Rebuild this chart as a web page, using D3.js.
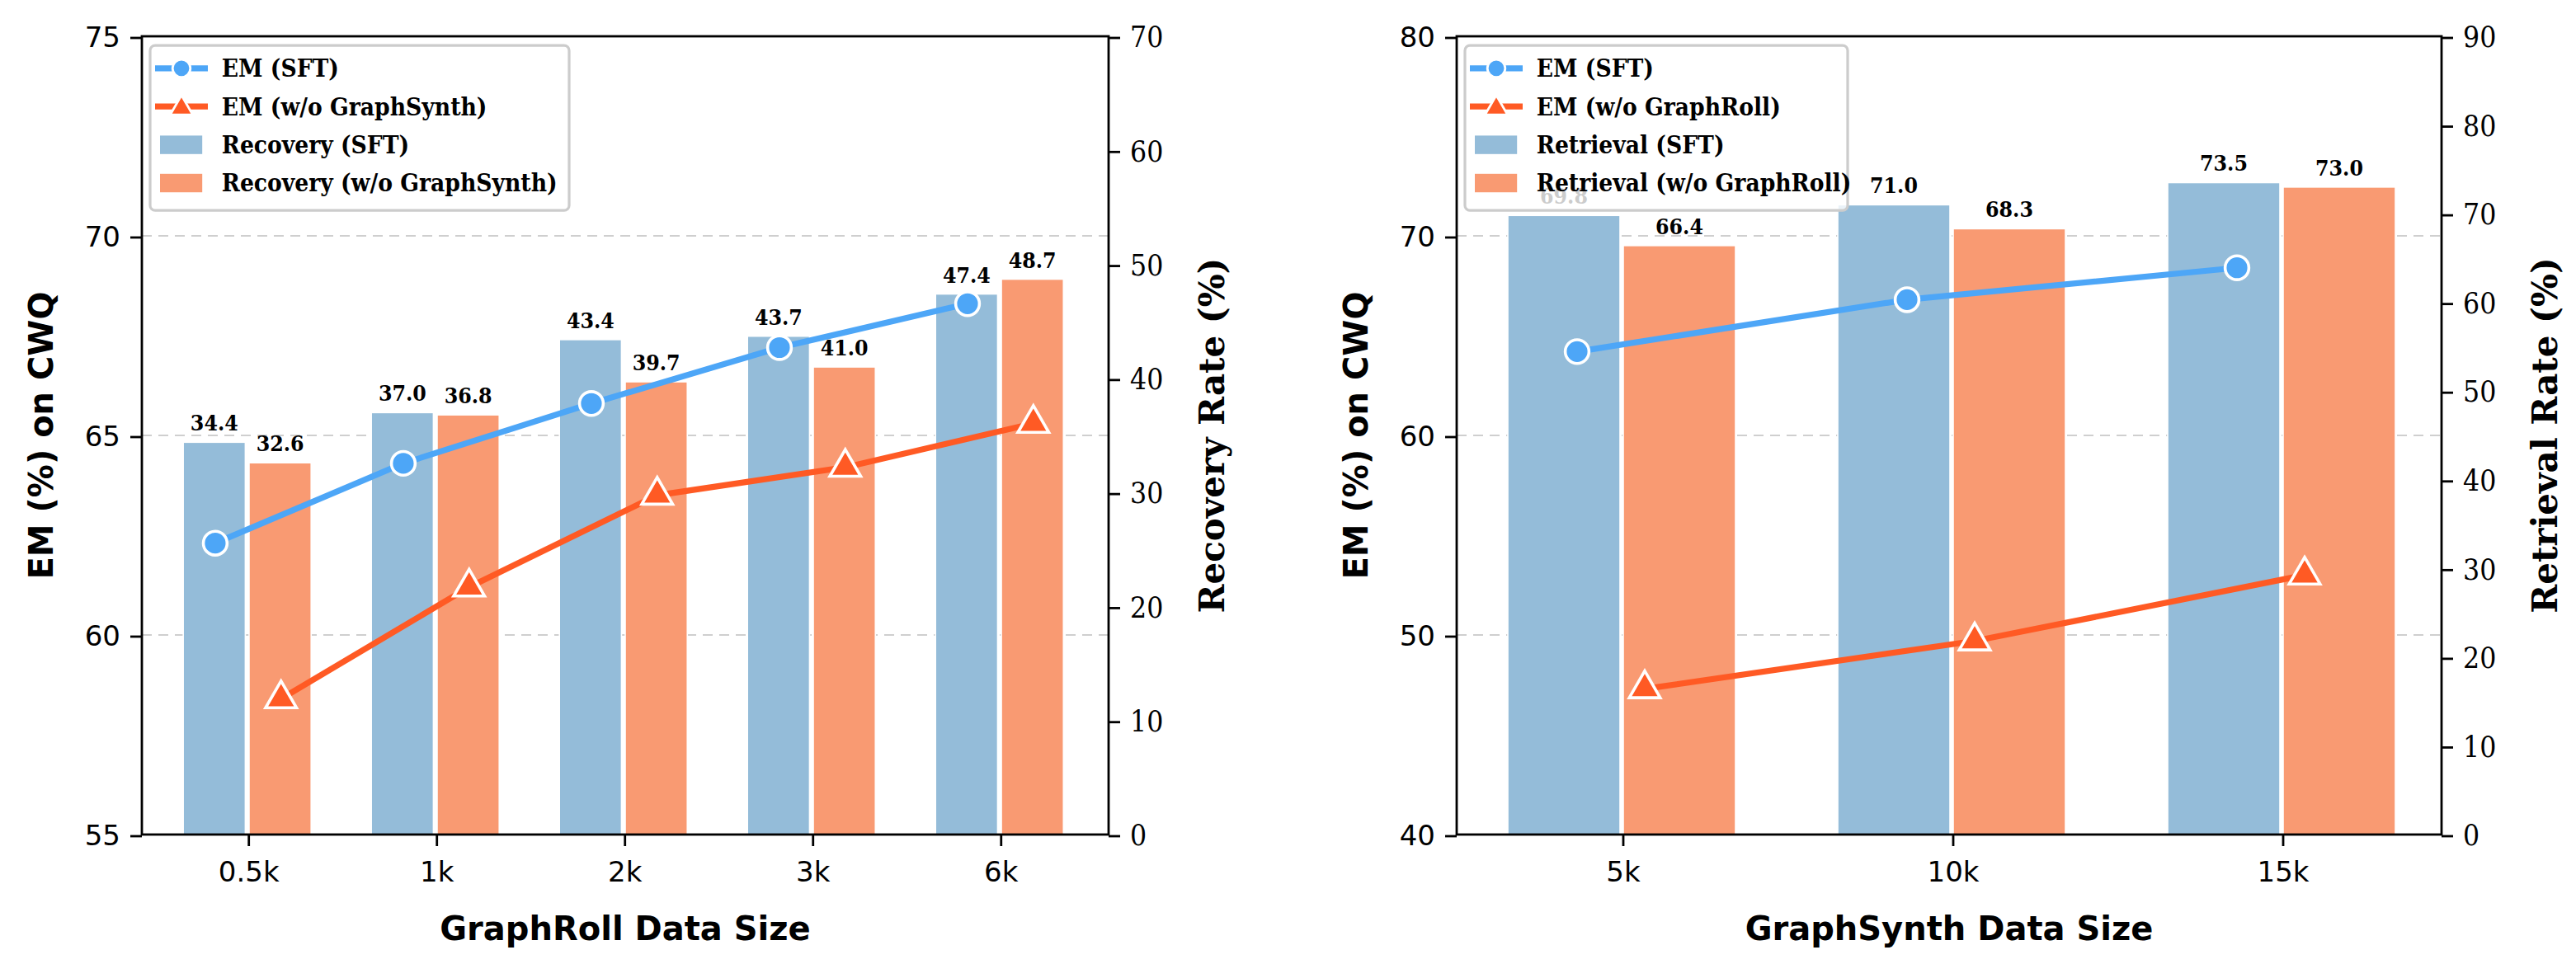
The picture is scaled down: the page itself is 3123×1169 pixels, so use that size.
<!DOCTYPE html><html><head><meta charset="utf-8"><script src="https://cdn.jsdelivr.net/npm/d3@7"></script>
<style>body{margin:0;background:#fff}</style></head><body><svg id="c" width="3123" height="1169"></svg><script>
const leftCats=["0.5k","1k","2k","3k","6k"];
const leftEmSft=[62.3,64.3,65.8,67.2,68.3];
const leftEmWo=[58.4,61.2,63.5,64.2,65.3];
const leftBarSft=[34.4,37.0,43.4,43.7,47.4];
const leftBarWo=[32.6,36.8,39.7,41.0,48.7];
const rightCats=["5k","10k","15k"];
const rightEmSft=[64.2,66.8,68.4];
const rightEmWo=[47.3,49.7,53.0];
const rightBarSft=[69.8,71.0,73.5];
const rightBarWo=[66.4,68.3,73.0];

const S=4;
const svg=d3.select("#c").append("g").attr("transform",`scale(${S})`);
const C={line1:"#4da6f7",line2:"#ff5a24",bar1:"#94bcd9",bar2:"#f99a72"};
const serif="'DejaVu Serif', serif";
const sans="'DejaVu Sans', sans-serif";

function chart(o){
 const g=svg.append("g");
 const x=d3.scaleLinear().domain(o.xdom).range([o.x0,o.x1]);
 const yl=d3.scaleLinear().domain(o.yl).range([o.y1,o.y0]);
 const yr=d3.scaleLinear().domain(o.yr).range([o.y1,o.y0]);
 const idx=o.cats.map((c,i)=>i);
 g.append("g").selectAll("line").data(o.ylTicks).join("line")
  .attr("x1",o.x0).attr("x2",o.x1).attr("y1",d=>yl(d)).attr("y2",d=>yl(d))
  .attr("stroke","#cfcfcf").attr("stroke-width",0.5).attr("stroke-dasharray","3,2");
 const bw=x(o.bw)-x(0);
 [[o.b1,C.bar1,-o.boff],[o.b2,C.bar2,o.boff]].forEach(([vals,col,off])=>{
  g.append("g").selectAll("rect").data(vals).join("rect")
   .attr("x",(d,i)=>x(i+off)-bw/2).attr("width",bw)
   .attr("y",d=>yr(d)).attr("height",d=>yr(o.yr[0])-yr(d))
   .attr("fill",col).attr("stroke","#fff").attr("stroke-width",0.4);
  g.append("g").selectAll("text").data(vals).join("text")
   .attr("x",(d,i)=>x(i+off)).attr("y",d=>yr(d)-3.5).attr("text-anchor","middle")
   .attr("font-family",serif).attr("font-weight","bold").attr("font-size",6.6).attr("font-stretch","condensed")
   .text(d=>d.toFixed(1));
 });
 const l1=d3.line().x((d,i)=>x(i+o.m1)).y(d=>yl(d));
 const l2=d3.line().x((d,i)=>x(i+o.m2)).y(d=>yl(d));
 g.append("path").attr("d",l1(o.e1)).attr("fill","none").attr("stroke",C.line1).attr("stroke-width",1.8);
 g.append("path").attr("d",l2(o.e2)).attr("fill","none").attr("stroke",C.line2).attr("stroke-width",1.8);
 g.append("g").selectAll("circle").data(o.e1).join("circle")
  .attr("cx",(d,i)=>x(i+o.m1)).attr("cy",d=>yl(d)).attr("r",3.6)
  .attr("fill",C.line1).attr("stroke","#fff").attr("stroke-width",0.9);
 const tri=d3.symbol().type(d3.symbolTriangle).size(38);
 g.append("g").selectAll("path").data(o.e2).join("path")
  .attr("transform",(d,i)=>`translate(${x(i+o.m2)},${yl(d)})`).attr("d",tri())
  .attr("fill",C.line2).attr("stroke","#fff").attr("stroke-width",0.9);
 const ax=g.append("g").attr("transform",`translate(0,${o.y1})`)
  .call(d3.axisBottom(x).tickValues(idx).tickFormat(i=>o.cats[i]).tickSize(3.5));
 ax.selectAll("text").attr("font-family",sans).attr("font-size",8.5).attr("fill","#000").attr("dy","0.9em");
 const al=g.append("g").attr("transform",`translate(${o.x0},0)`).call(d3.axisLeft(yl).tickValues(o.ylTicks).tickSize(3.5));
 al.selectAll("text").attr("font-family",sans).attr("font-size",8.5).attr("fill","#000");
 const ar=g.append("g").attr("transform",`translate(${o.x1},0)`).call(d3.axisRight(yr).tickValues(o.yrTicks).tickSize(3.5));
 ar.selectAll("text").attr("font-family",serif).attr("font-size",8.8).attr("font-stretch","condensed").attr("fill","#000");
 [ax,al,ar].forEach(a=>{a.select(".domain").remove();a.selectAll("line").attr("stroke","#000").attr("stroke-width",0.7);});
 g.append("rect").attr("x",o.x0).attr("y",o.y0).attr("width",o.x1-o.x0).attr("height",o.y1-o.y0)
  .attr("fill","none").attr("stroke","#000").attr("stroke-width",0.7);
 g.append("text").attr("x",(o.x0+o.x1)/2).attr("y",o.y1+32).attr("text-anchor","middle")
  .attr("font-family",sans).attr("font-weight","bold").attr("font-size",10).text(o.xlabel);
 g.append("text").attr("transform",`translate(${o.x0-27},${(o.y0+o.y1)/2}) rotate(-90)`).attr("text-anchor","middle")
  .attr("font-family",sans).attr("font-weight","bold").attr("font-size",10).text("EM (%) on CWQ");
 g.append("text").attr("transform",`translate(${o.x1+35},${(o.y0+o.y1)/2}) rotate(-90)`).attr("text-anchor","middle")
  .attr("font-family",serif).attr("font-weight","bold").attr("font-size",10.5).text(o.rlabel);
 const lg=g.append("g").attr("transform",`translate(${o.x0+2.5},${o.y0+2.8})`);
 lg.append("rect").attr("width",o.legW).attr("height",50).attr("rx",1.5).attr("fill","#fff").attr("fill-opacity",0.8)
  .attr("stroke","#ccc").attr("stroke-width",0.8);
 const items=[["l",C.line1,"c",o.leg[0]],["l",C.line2,"t",o.leg[1]],["b",C.bar1,"",o.leg[2]],["b",C.bar2,"",o.leg[3]]];
 const mtri=d3.symbol().type(d3.symbolTriangle).size(20);
 items.forEach((it,k)=>{
  const yy=6.9+k*11.6;
  if(it[0]==="l"){
   lg.append("line").attr("x1",1.5).attr("x2",17.5).attr("y1",yy).attr("y2",yy).attr("stroke",it[1]).attr("stroke-width",1.8);
   if(it[2]==="c") lg.append("circle").attr("cx",9.5).attr("cy",yy).attr("r",2.7).attr("fill",it[1]).attr("stroke","#fff").attr("stroke-width",0.7);
   else lg.append("path").attr("transform",`translate(9.5,${yy+0.5})`).attr("d",mtri()).attr("fill",it[1]).attr("stroke","#fff").attr("stroke-width",0.7);
  } else {
   lg.append("rect").attr("x",3).attr("y",yy-2.8).attr("width",12.8).attr("height",5.6).attr("fill",it[1]);
  }
  lg.append("text").attr("x",21.7).attr("y",yy).attr("dy","0.35em").attr("font-family",serif).attr("font-weight","bold")
   .attr("font-stretch","condensed").attr("font-size",7.4).text(it[3]);
 });
}
chart({cats:leftCats,xdom:[-0.56,4.58],x0:43,x1:336,y0:11,y1:253,yl:[55,75],yr:[0,70],
 ylTicks:[55,60,65,70,75],yrTicks:d3.range(0,71,10),b1:leftBarSft,b2:leftBarWo,e1:leftEmSft,e2:leftEmWo,
 bw:0.33,boff:0.175,m1:-0.17,m2:0.18,xlabel:"GraphRoll Data Size",rlabel:"Recovery Rate (%)",legW:127,
 leg:["EM (SFT)","EM (w/o GraphSynth)","Recovery (SFT)","Recovery (w/o GraphSynth)"]});
chart({cats:rightCats,xdom:[-0.5,2.485],x0:441.5,x1:740,y0:11,y1:253,yl:[40,80],yr:[0,90],
 ylTicks:[40,50,60,70,80],yrTicks:d3.range(0,91,10),b1:rightBarSft,b2:rightBarWo,e1:rightEmSft,e2:rightEmWo,
 bw:0.34,boff:0.175,m1:-0.135,m2:0.07,xlabel:"GraphSynth Data Size",rlabel:"Retrieval Rate (%)",legW:116,
 leg:["EM (SFT)","EM (w/o GraphRoll)","Retrieval (SFT)","Retrieval (w/o GraphRoll)"]});
</script></body></html>
